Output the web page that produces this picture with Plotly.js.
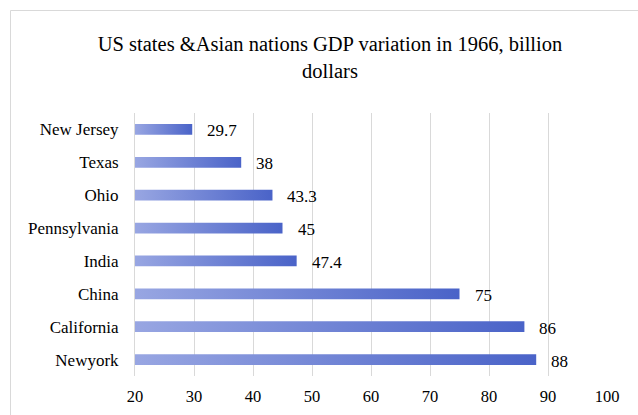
<!DOCTYPE html>
<html>
<head>
<meta charset="utf-8">
<script src="https://cdn.plot.ly/plotly-3.0.1.min.js"></script>
<style>
  html, body { margin: 0; padding: 0; background: #ffffff; }
  #chart { width: 638px; height: 415px; }
</style>
</head>
<body>
<div id="chart"></div>
<script>
// ---- data (top to bottom as shown) ----
var categories = ["New Jersey", "Texas", "Ohio", "Pennsylvania", "India", "China", "California", "Newyork"];
var gdpValues = [29.7, 38, 43.3, 45, 47.4, 75, 86, 88];
var xTickValues = [20, 30, 40, 50, 60, 70, 80, 90, 100];
var chartTitle = "US states &Asian nations GDP variation in 1966, billion<br>dollars";

// ---- styling ----
var serif = "Liberation Serif";
var textColor = "#000000";
var gridColor = "#d9d9d9";
var gradLight = "#98a6e2";
var gradDark = "#4a63c8";

var W = 638, H = 415;
var M = { l: 135, r: 31, t: 113, b: 39 };
var plotW = W - M.l - M.r, plotH = H - M.t - M.b;
function px2paperX(px) { return (px - M.l) / plotW; }
function px2paperY(py) { return (H - M.b - py) / plotH; }

var trace = {
  type: "bar",
  orientation: "h",
  y: categories,
  x: gdpValues,
  width: 0.33,
  marker: { color: "#6f83d5", line: { width: 0 } },
  hoverinfo: "x+y"
};

var annotations = categories.map(function (c, i) {
  return {
    x: gdpValues[i], y: c, xref: "x", yref: "y",
    text: String(gdpValues[i]),
    showarrow: false, xanchor: "left", yanchor: "middle",
    xshift: 13, yshift: -1.5,
    font: { family: serif, size: 17, color: textColor }
  };
});

var layout = {
  width: W, height: H,
  margin: M,
  font: { family: serif, color: textColor },
  paper_bgcolor: "#ffffff",
  plot_bgcolor: "#ffffff",
  showlegend: false,
  title: {
    text: chartTitle,
    font: { family: serif, size: 20.5, color: textColor },
    x: 330 / W, xref: "container", xanchor: "center",
    y: 1 - 51 / H, yref: "container", yanchor: "top"
  },
  xaxis: {
    range: [20, 100],
    tickvals: xTickValues,
    ticktext: xTickValues.map(String),
    showgrid: true, gridcolor: gridColor, gridwidth: 1,
    zeroline: false, showline: false,
    ticks: "", ticklabelstandoff: 8,
    tickfont: { family: serif, size: 16.5, color: textColor },
    fixedrange: true
  },
  yaxis: {
    type: "category",
    categoryorder: "array", categoryarray: categories,
    autorange: "reversed",
    showgrid: false, zeroline: false,
    showline: true, linecolor: gridColor, linewidth: 1,
    ticks: "", ticklabelstandoff: 12,
    tickfont: { family: serif, size: 17, color: textColor },
    fixedrange: true
  },
  annotations: annotations,
  shapes: [{
    type: "rect", xref: "paper", yref: "paper",
    x0: px2paperX(10.5), x1: px2paperX(660),
    y0: px2paperY(440), y1: px2paperY(10.5),
    line: { color: gridColor, width: 1 },
    fillcolor: "rgba(0,0,0,0)", layer: "below"
  }]
};

var gd = document.getElementById("chart");
Plotly.newPlot(gd, [trace], layout, { displayModeBar: false, staticPlot: true }).then(function () {
  // apply a left-to-right gradient to each bar (as in the reference)
  var svg = gd.querySelector("svg.main-svg");
  var defs = svg.querySelector("defs") || svg.insertBefore(document.createElementNS("http://www.w3.org/2000/svg", "defs"), svg.firstChild);
  var paths = gd.querySelectorAll(".barlayer .point path");
  paths.forEach(function (p, i) {
    var bb = p.getBBox();
    var x1 = Math.max(bb.x, 0), x2 = bb.x + bb.width;
    var g = document.createElementNS("http://www.w3.org/2000/svg", "linearGradient");
    g.setAttribute("id", "barGrad" + i);
    g.setAttribute("gradientUnits", "userSpaceOnUse");
    g.setAttribute("x1", x1); g.setAttribute("x2", x2);
    g.setAttribute("y1", 0); g.setAttribute("y2", 0);
    [[0, gradLight], [1, gradDark]].forEach(function (s) {
      var st = document.createElementNS("http://www.w3.org/2000/svg", "stop");
      st.setAttribute("offset", s[0]);
      st.setAttribute("stop-color", s[1]);
      g.appendChild(st);
    });
    defs.appendChild(g);
    p.style.fill = "url(#barGrad" + i + ")";
  });
});
</script>
</body>
</html>
